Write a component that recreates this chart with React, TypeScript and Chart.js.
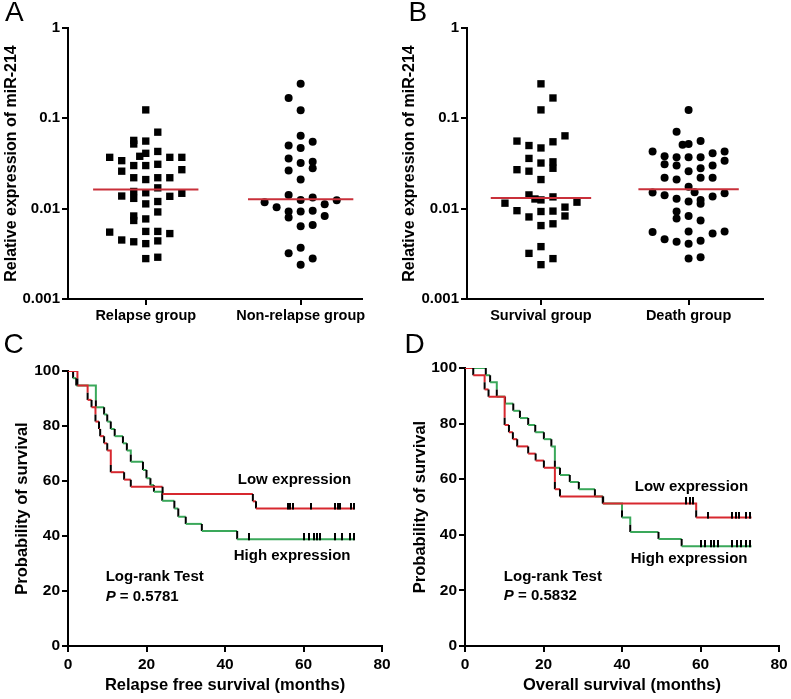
import React, { useEffect, useRef } from 'react';
import { Chart, registerables } from 'chart.js';
Chart.register(...registerables);

const FONT = "'Liberation Sans', Arial, Helvetica, sans-serif";
const RED_MEDIAN = '#c9303a';
const RED = '#d7282f';
const GREEN = '#3aa85a';

// ---------- Panel A ----------
const groupsA = ['Relapse group', 'Non-relapse group'];
const relapseValues = [0.124, 0.0703, 0.057, 0.052, 0.056, 0.041, 0.038, 0.043, 0.037, 0.034, 0.037, 0.037, 0.030, 0.030, 0.031, 0.026, 0.027, 0.022, 0.021, 0.022, 0.022, 0.0155, 0.015, 0.017, 0.0138, 0.013, 0.012, 0.0137, 0.0148, 0.0113, 0.0092, 0.0083, 0.0074, 0.0077, 0.0055, 0.0056, 0.0056, 0.0053, 0.0045, 0.0043, 0.0041, 0.0044, 0.0028, 0.0029];
const relapseCols = [0, 1, -1, -1, 0, 0, -0.5, 1, -3, -2, 2, 3, -1, 0, 1, -2, 3, -1, 0, 1, 2, -1, 0, 1, -2, -1, 1, 2, 3, 0, 1, -1, -1, 0, -3, 0, 1, 2, -2, -1, 0, 1, 0, 1];
const nonRelapseValues = [0.241, 0.168, 0.123, 0.064, 0.050, 0.055, 0.047, 0.036, 0.032, 0.033, 0.028, 0.0265, 0.021, 0.0142, 0.0125, 0.0133, 0.0118, 0.0104, 0.0112, 0.0124, 0.0093, 0.0080, 0.0093, 0.0095, 0.0083, 0.0064, 0.0066, 0.0037, 0.0032, 0.0028, 0.0024];
const nonRelapseCols = [0, -1, 0, 0, -1, 1, 0, -1, 0, 1, 1, -1, 0, -1, 0, 1, -3, -2, 2, 3, -1, -1, 0, 1, 2, 0, 1, 0, -1, 1, 0];
const mediansA = [0.0163, 0.0127];

// ---------- Panel B ----------
const groupsB = ['Survival group', 'Death group'];
const survivalValues = [0.241, 0.168, 0.124, 0.064, 0.056, 0.050, 0.055, 0.047, 0.036, 0.032, 0.033, 0.028, 0.027, 0.026, 0.021, 0.0142, 0.0125, 0.0135, 0.0115, 0.0118, 0.0104, 0.0095, 0.0081, 0.0093, 0.0094, 0.0083, 0.0065, 0.0068, 0.0038, 0.0032, 0.0028, 0.0024, 0.0128];
const survivalCols = [0, 1, 0, 2, -2, -1, 1, 0, -1, 0, 1, 1, -2, -1, 0, -1, 0, 1, -3, 3, 2, -2, -1, 0, 1, 2, 0, 1, 0, -1, 1, 0, -0.5];
const deathValues = [0.124, 0.071, 0.051, 0.052, 0.056, 0.043, 0.043, 0.038, 0.037, 0.037, 0.037, 0.041, 0.034, 0.031, 0.030, 0.026, 0.028, 0.030, 0.022, 0.021, 0.022, 0.022, 0.0151, 0.0175, 0.0152, 0.0148, 0.0141, 0.0129, 0.0120, 0.0125, 0.0113, 0.0136, 0.0093, 0.0078, 0.0083, 0.0074, 0.0055, 0.0056, 0.0053, 0.0056, 0.0046, 0.0043, 0.0041, 0.0044, 0.0028, 0.0029];
const deathCols = [0, -1, -0.5, 0, 1, -3, 3, -2, -1, 0, 1, 2, 3, -2, -1, 0, 1, 2, -2, -1, 1, 2, -3, 0, 0.5, 3, -2, -1, 0, 1, 1, 2, -1, -1, 0, 1, -3, 0, 2, 3, -2, -1, 0, 1, 0, 1];
const mediansB = [0.0131, 0.0164];

const logTicks = [0.001, 0.01, 0.1, 1];

// ---------- Panel C (relapse free survival) ----------
const rfsLowTimes = [2.4, 5.0, 6.0, 7.0, 7.9, 8.2, 9.2, 10.0, 10.9, 14.3, 16.0, 24.1, 47.1, 47.9];
const rfsLowSurv = [94.7, 89.5, 86.8, 81.6, 78.9, 76.3, 73.7, 71.1, 63.2, 60.5, 57.9, 55.3, 52.6, 50.0];
const rfsLowCensor = [56.0, 56.6, 57.3, 62.0, 68.1, 68.8, 69.4, 72.2, 72.9];
const rfsHighTimes = [1.3, 2.1, 7.1, 9.2, 10.0, 10.9, 11.9, 14.0, 15.0, 16.0, 19.1, 20.0, 21.0, 21.9, 24.0, 27.1, 28.1, 30.0, 34.1, 43.1];
const rfsHighSurv = [97.4, 94.7, 86.8, 84.2, 81.6, 78.9, 76.3, 73.7, 71.1, 67.0, 64.0, 61.0, 58.5, 56.1, 52.8, 50.0, 47.0, 44.4, 41.8, 38.8];
const rfsHighCensor = [46.0, 60.0, 61.3, 62.7, 63.4, 64.1, 68.1, 69.8, 71.9, 72.9];

// ---------- Panel D (overall survival) ----------
const osLowTimes = [2.1, 5.0, 6.0, 10.1, 11.2, 12.2, 13.3, 16.1, 18.0, 20.1, 22.9, 24.2, 35.1, 58.9];
const osLowSurv = [97.4, 92.3, 89.7, 79.5, 76.9, 74.4, 71.8, 69.2, 66.7, 64.1, 56.4, 53.8, 51.3, 46.2];
const osLowCensor = [56.3, 57.2, 58.0, 61.9, 68.1, 69.0, 69.8, 71.7, 72.5];
const osHighTimes = [5.3, 6.4, 8.1, 10.2, 12.3, 14.0, 16.1, 17.9, 20.1, 22.0, 22.9, 24.2, 26.7, 29.0, 33.1, 35.2, 40.0, 42.1, 49.3, 55.2];
const osHighSurv = [97.4, 94.9, 89.7, 87.2, 84.6, 82.0, 79.5, 76.9, 74.4, 71.8, 64.1, 61.5, 59.0, 56.4, 53.8, 51.3, 46.2, 41.0, 38.5, 35.9];
const osHighCensor = [60.2, 61.1, 62.7, 63.5, 64.4, 67.9, 69.2, 70.4, 71.7, 72.7];

const followUpEnd = 73;
const kmXTicks = [0, 20, 40, 60, 80];
const kmYTicks = [0, 20, 40, 60, 80, 100];

// ---------- helpers ----------
function font(size: number, weight = 'bold') {
  return { family: FONT, size, weight } as any;
}

function axisBase(tickSize: number) {
  return {
    border: { display: true, color: '#000', width: 2 },
    grid: { display: true, drawOnChartArea: false, drawTicks: true, tickLength: 6, color: '#000', lineWidth: 2 },
    ticks: { color: '#000', font: font(tickSize), padding: 3 },
  } as any;
}

function swarm(values: number[], cols: number[], group: number, step: number) {
  return values.map((v, i) => ({ x: group + cols[i] * step, y: v }));
}

function medianLine(m: number, group: number, half: number) {
  return [{ x: group - half, y: m }, { x: group + half, y: m }];
}

function scatterConfig(p: any) {
  const { groups, a, aCols, b, bCols, medians, aStyle, bStyle, xMin, xMax, step, padRight, titlePad } = p;
  const markerStyle = (style: string) => ({
    pointStyle: style,
    pointRadius: style === 'rect' ? 5.2 : 4,
    backgroundColor: '#000',
    borderColor: '#000',
    borderWidth: 0,
    showLine: false,
  });
  const yBase = axisBase(15);
  const xBase = axisBase(14.5);
  return {
    type: 'scatter',
    data: {
      datasets: [
        { type: 'line', data: medianLine(medians[0], 1, 0.34), borderColor: RED_MEDIAN, borderWidth: 2, pointRadius: 0, order: -1 },
        { type: 'line', data: medianLine(medians[1], 2, 0.34), borderColor: RED_MEDIAN, borderWidth: 2, pointRadius: 0, order: -1 },
        { data: swarm(a, aCols, 1, step), ...markerStyle(aStyle) },
        { data: swarm(b, bCols, 2, step), ...markerStyle(bStyle) },
      ],
    },
    options: {
      animation: false,
      responsive: false,
      layout: { padding: { top: 28, right: padRight, left: 0, bottom: 0 } },
      plugins: { legend: { display: false }, tooltip: { enabled: false } },
      scales: {
        x: {
          ...xBase,
          type: 'linear',
          min: xMin,
          max: xMax,
          afterBuildTicks: (s: any) => { s.ticks = [1, 2].map((v) => ({ value: v })); },
          afterFit: (s: any) => { s.height = 331 - 299 - 1; },
          ticks: { ...xBase.ticks, padding: 2, callback: (v: any) => groups[Math.round(v) - 1] },
        },
        y: {
          ...yBase,
          type: 'logarithmic',
          min: 0.001,
          max: 1,
          afterBuildTicks: (s: any) => { s.ticks = logTicks.map((v) => ({ value: v })); },
          afterFit: (s: any) => { s.width = p.yWidth; },
          ticks: { ...yBase.ticks, padding: 2, callback: (v: any) => String(v) },
          title: { display: true, text: 'Relative expression of miR-214', color: '#000', font: font(16), padding: { top: titlePad, bottom: 0 } },
        },
      },
    },
  } as any;
}

function stepValue(times: number[], surv: number[], t: number) {
  let s = 100;
  times.forEach((ti, i) => { if (ti <= t) s = surv[i]; });
  return s;
}

function kmPoints(times: number[], surv: number[], end: number) {
  const pts: any[] = [{ x: 0, y: 100 }];
  let prev = 100;
  times.forEach((t, i) => {
    const s = surv[i];
    pts.push({ x: t, y: prev });
    if (prev - s > 3.2) pts.push({ x: t, y: s + 2.6 });
    pts.push({ x: t, y: s, blk: true });
    prev = s;
  });
  pts.push({ x: end, y: prev });
  return pts;
}

function makeTickImage() {
  const c = document.createElement('canvas');
  c.width = 2;
  c.height = 12;
  const g = c.getContext('2d')!;
  g.fillStyle = '#000';
  g.fillRect(0, 0, 2, 7);
  return c;
}

function kmCurve(pts: any[], color: string) {
  return {
    type: 'line',
    data: pts,
    borderColor: color,
    borderWidth: 2,
    pointRadius: 0,
    tension: 0,
    borderCapStyle: 'butt',
    segment: {
      borderColor: (ctx: any) => (pts[ctx.p1DataIndex] && pts[ctx.p1DataIndex].blk ? '#000' : color),
    },
  };
}

function censorSet(times: number[], evT: number[], evS: number[], img: HTMLCanvasElement) {
  return {
    type: 'scatter',
    data: times.map((t) => ({ x: t, y: stepValue(evT, evS, t) })),
    pointStyle: img,
    pointRadius: 3,
    showLine: false,
    order: -2,
  };
}

const annotationPlugin = {
  id: 'kmText',
  afterDraw(chart: any) {
    const items = chart.options.plugins.kmText?.items || [];
    const { ctx, scales } = chart;
    ctx.save();
    ctx.fillStyle = '#000';
    ctx.textBaseline = 'middle';
    for (const it of items) {
      const px = scales.x.getPixelForValue(it.x);
      const py = scales.y.getPixelForValue(it.y);
      let x = px;
      if (it.align === 'center') {
        let w = 0;
        for (const part of it.parts) {
          ctx.font = `${part.italic ? 'italic ' : ''}bold 15px ${FONT}`;
          w += ctx.measureText(part.text).width;
        }
        x = px - w / 2;
      }
      ctx.textAlign = 'left';
      for (const part of it.parts) {
        ctx.font = `${part.italic ? 'italic ' : ''}bold 15px ${FONT}`;
        ctx.fillText(part.text, x, py);
        x += ctx.measureText(part.text).width;
      }
    }
    ctx.restore();
  },
};

function kmConfig(p: any) {
  const img = makeTickImage();
  const base = axisBase(15.5);
  return {
    type: 'line',
    data: {
      datasets: [
        censorSet(p.lowCensor, p.lowT, p.lowS, img),
        censorSet(p.highCensor, p.highT, p.highS, img),
        kmCurve(kmPoints(p.lowT, p.lowS, followUpEnd), RED),
        kmCurve(kmPoints(p.highT, p.highS, followUpEnd), GREEN),
      ],
    },
    options: {
      animation: false,
      responsive: false,
      parsing: true,
      layout: { padding: { top: p.top, right: p.padRight, left: 0, bottom: 0 } },
      plugins: {
        legend: { display: false },
        tooltip: { enabled: false },
        kmText: {
          items: [
            { x: 57.7, y: p.lowLabelY, align: 'center', parts: [{ text: 'Low expression' }] },
            { x: 57.1, y: p.highLabelY, align: 'center', parts: [{ text: 'High expression' }] },
            { x: p.testX, y: 25, align: 'left', parts: [{ text: 'Log-rank Test' }] },
            { x: p.testX, y: 18, align: 'left', parts: [{ text: 'P', italic: true }, { text: ' = ' + p.pValue }] },
          ],
        },
      },
      scales: {
        x: {
          ...base,
          type: 'linear',
          min: 0,
          max: 80,
          afterBuildTicks: (s: any) => { s.ticks = kmXTicks.map((v) => ({ value: v })); },
          afterFit: (s: any) => { s.height = 53; },
          ticks: { ...base.ticks, padding: 3 },
          title: { display: true, text: p.xTitle, color: '#000', font: font(16.5), padding: { top: 0, bottom: 4 } },
        },
        y: {
          ...base,
          type: 'linear',
          min: 0,
          max: 100,
          afterBuildTicks: (s: any) => { s.ticks = kmYTicks.map((v) => ({ value: v })); },
          afterFit: (s: any) => { s.width = p.yWidth; },
          ticks: { ...base.ticks, padding: 2 },
          title: { display: true, text: 'Probability of survival', color: '#000', font: font(16.5), padding: { top: p.titlePad, bottom: 0 } },
        },
      },
    },
    plugins: [annotationPlugin],
  } as any;
}

function Panel({ left, top, width, height, make }: any) {
  const ref = useRef<HTMLCanvasElement>(null);
  useEffect(() => {
    const chart = new Chart(ref.current!, make());
    return () => chart.destroy();
  }, []);
  return (
    <div style={{ position: 'absolute', left, top, width, height }}>
      <canvas ref={ref} width={width} height={height} style={{ display: 'block', width, height }} />
    </div>
  );
}

const letterStyle: any = {
  position: 'absolute',
  fontFamily: FONT,
  fontSize: 28,
  lineHeight: '28px',
  color: '#000',
};

export default function App() {
  return (
    <div style={{ position: 'absolute', left: 0, top: 0, width: 791, height: 699, background: '#fff', overflow: 'hidden' }}>
      <Panel
        left={0} top={0} width={400} height={330}
        make={() => scatterConfig({
          groups: groupsA, a: relapseValues, aCols: relapseCols, b: nonRelapseValues, bCols: nonRelapseCols,
          medians: mediansA, aStyle: 'rect', bStyle: 'circle', xMin: 0.498, xMax: 2.396, step: 0.0776,
          padRight: 38, yWidth: 68, titlePad: 1.5,
        })}
      />
      <Panel
        left={400} top={0} width={391} height={330}
        make={() => scatterConfig({
          groups: groupsB, a: survivalValues, aCols: survivalCols, b: deathValues, bCols: deathCols,
          medians: mediansB, aStyle: 'rect', bStyle: 'circle', xMin: 0.499, xMax: 2.504, step: 0.0813,
          padRight: 28, yWidth: 67, titlePad: 0,
        })}
      />
      <Panel
        left={0} top={330} width={400} height={369}
        make={() => kmConfig({
          lowT: rfsLowTimes, lowS: rfsLowSurv, lowCensor: rfsLowCensor,
          highT: rfsHighTimes, highS: rfsHighSurv, highCensor: rfsHighCensor,
          xTitle: 'Relapse free survival (months)', pValue: '0.5781',
          top: 41, padRight: 18, yWidth: 68, titlePad: 13,
          lowLabelY: 60.4, highLabelY: 32.7, testX: 9.6,
        })}
      />
      <Panel
        left={400} top={330} width={391} height={369}
        make={() => kmConfig({
          lowT: osLowTimes, lowS: osLowSurv, lowCensor: osLowCensor,
          highT: osHighTimes, highS: osHighSurv, highCensor: osHighCensor,
          xTitle: 'Overall survival (months)', pValue: '0.5832',
          top: 38, padRight: 12, yWidth: 65, titlePad: 10.5,
          lowLabelY: 57.3, highLabelY: 31.4, testX: 9.9,
        })}
      />
      <div style={{ ...letterStyle, left: 5, top: -2 }}>A</div>
      <div style={{ ...letterStyle, left: 408.5, top: -2 }}>B</div>
      <div style={{ ...letterStyle, left: 3.6, top: 329.6 }}>C</div>
      <div style={{ ...letterStyle, left: 404.5, top: 329.6 }}>D</div>
    </div>
  );
}
